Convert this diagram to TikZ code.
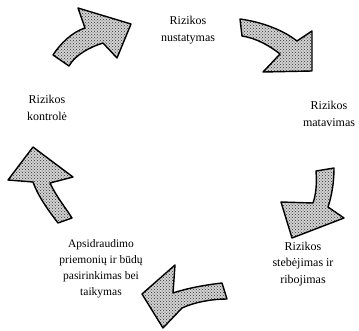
\documentclass[tikz,border=0pt]{standalone}
\usepackage{fontspec}
\setmainfont{Liberation Serif}
\usetikzlibrary{positioning,patterns}

\begin{document}
\begin{tikzpicture}[
    x=1pt, y=-1pt,
    every node/.style={font=\fontsize{12}{16.5}\selectfont},
    stage/.style={align=center, inner sep=0pt},
    cyclearrow/.style={draw=black, line width=1.4pt, line join=round,
                       preaction={fill=gray!35},
                       pattern=crosshatch dots, pattern color=black!80},
  ]
  \useasboundingbox (0,0) rectangle (359,330);

  % Stages of the cycle
  \node[stage] (ident)   at (188,30)  {Rizikos\\nustatymas};
  \node[stage] (meas)    at (329,114) {Rizikos\\matavimas};
  \node[stage] (monit)   at (303,264) {Rizikos\\stebėjimas ir\\ribojimas};
  \node[stage, font=\fontsize{11.5}{16}\selectfont] (hedge) at (101,269)
    {Apsidraudimo\\priemonių ir būdų\\pasirinkimas bei\\taikymas};
  \node[stage] (control) at (47,108)  {Rizikos\\kontrolė};

  % Curved arrows between the stages
  \draw[cyclearrow] (53,55) .. controls (60,44) and (72,32) .. (85,28)
    -- (78,8) -- (131,24) -- (117,58) -- (103,43)
    .. controls (90,47) and (75,55) .. (69,66) -- cycle;
  \draw[cyclearrow] (240,19) .. controls (262,22) and (283,30) .. (297,41)
    -- (312,31) -- (312,71) -- (263,72) -- (280,54)
    .. controls (270,46) and (256,38) .. (242,36) -- cycle;
  \draw[cyclearrow] (334,168) -- (316,171)
    .. controls (317,184) and (316,194) .. (313,203)
    -- (281,202) -- (292,238) -- (344,218) -- (328,207)
    .. controls (332,195) and (334,182) .. cycle;
  \draw[cyclearrow] (222,283) .. controls (205,285) and (188,288) .. (173,293)
    -- (175,265) -- (142,294) -- (163,328) -- (182,308)
    .. controls (195,302) and (212,299) .. (227,299) -- cycle;
  \draw[cyclearrow] (58,223) .. controls (48,210) and (38,196) .. (33,182)
    -- (8,180) -- (33,147) -- (73,177) -- (50,183)
    .. controls (56,196) and (65,207) .. (72,218) -- cycle;
\end{tikzpicture}
\end{document}
